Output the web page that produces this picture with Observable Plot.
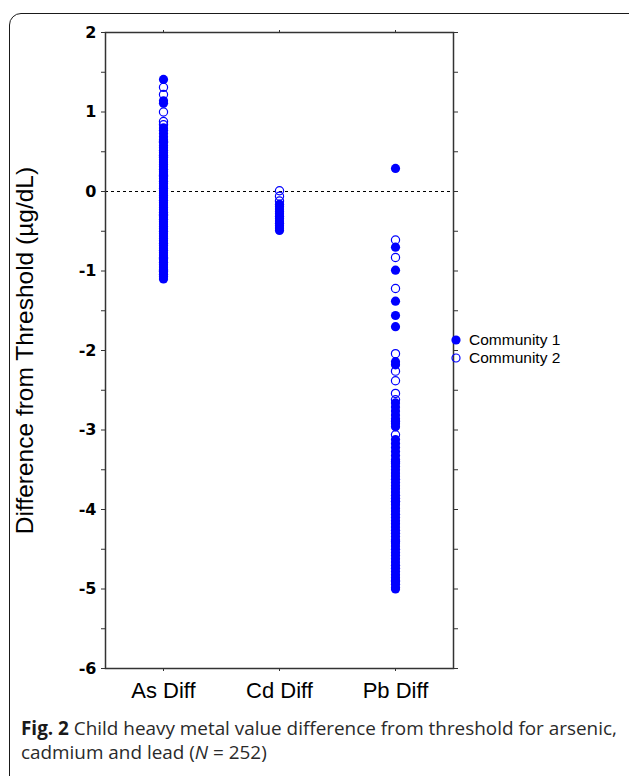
<!DOCTYPE html>
<html>
<head>
<meta charset="utf-8">
<script src="https://cdn.jsdelivr.net/npm/d3@7"></script>
<script src="https://cdn.jsdelivr.net/npm/@observablehq/plot@0.6"></script>
<style>
  html, body { margin: 0; padding: 0; background: #fff; }
  #wrap { position: relative; width: 629px; height: 776px; overflow: hidden; background: #fff; }
  #border { position: absolute; left: 9px; top: 13px; width: 650px; height: 800px;
            border: 1.5px solid #1a1a1a; border-radius: 12px; box-sizing: border-box; }
  #chart { position: absolute; left: 0; top: 0; }
  #chart g[aria-label="x-axis tick label"] text { font-family: "Liberation Sans", Arial, sans-serif; font-size: 22px; fill: #000; }
  #legend { position: absolute; left: 450px; top: 331px; font-family: "Liberation Sans", Arial, sans-serif;
            font-size: 15.5px; color: #000; line-height: 18px; }
  #legend div { display: flex; align-items: center; }
  #legend svg { margin-right: 7px; }
  #caption { position: absolute; left: 21px; top: 716px; width: 620px; font-family: "Open Sans", sans-serif;
             font-size: 18.9px; line-height: 24px; color: #2a2a2a; white-space: nowrap; }
  #caption b { color: #1a1a1a; }
</style>
</head>
<body>
<div id="wrap">
  <div id="border"></div>
  <div id="chart"></div>
  <div id="legend"></div>
  <div id="caption"><b>Fig. 2</b> Child heavy metal value difference from threshold for arsenic,<br>cadmium and lead (<i>N</i> = 252)</div>
</div>
<script>
const categories = ["As Diff", "Cd Diff", "Pb Diff"];
const seriesNames = ["Community 1", "Community 2"];
const yTicks = [-6, -5, -4, -3, -2, -1, 0, 1, 2];
const yMinorTicks = [-5.5, -4.5, -3.5, -2.5, -1.5, -0.5, 0.5, 1.5];
const yLabel = "Difference from Threshold (µg/dL)";
const threshold = 0;

// Community 1 (filled) values
const asC1 = [1.41, 1.14, 1.11, 0.80, 0.77, 0.73, 0.69, 0.65, 0.62, 0.58, 0.55, 0.52, 0.49, 0.46, 0.43, 0.40,
  0.37, 0.34, 0.31, 0.28, 0.25, 0.22, 0.19, 0.16, 0.13, 0.10, 0.07, 0.04, 0.01, -0.02, -0.05, -0.08, -0.11,
  -0.14, -0.17, -0.20, -0.23, -0.26, -0.29, -0.32, -0.35, -0.38, -0.41, -0.44, -0.47, -0.50, -0.53, -0.56,
  -0.59, -0.62, -0.65, -0.68, -0.71, -0.74, -0.77, -0.80, -0.83, -0.86, -0.89, -0.92, -0.95, -0.98, -1.01,
  -1.04, -1.07, -1.10];
const cdC1 = [-0.16, -0.19, -0.22, -0.25, -0.28, -0.31, -0.34, -0.37, -0.40, -0.43, -0.46, -0.49];
const pbC1 = [0.29, -0.70, -0.99, -1.38, -1.56, -1.70, -2.14, -2.18, -2.66, -2.71, -2.76, -2.81, -2.86, -2.92,
  -2.96, -3.12, -3.17, -3.22, -3.27, -3.32, -3.37, -3.42, -3.46, -3.50, -3.54, -3.58, -3.62, -3.66, -3.70,
  -3.74, -3.78, -3.82, -3.86, -3.90, -3.94, -3.98, -4.02, -4.06, -4.10, -4.14, -4.18, -4.22, -4.26, -4.30,
  -4.34, -4.38, -4.42, -4.46, -4.50, -4.54, -4.58, -4.62, -4.66, -4.70, -4.74, -4.78, -4.82, -4.86, -4.90,
  -4.94, -4.98, -5.00];

// Community 2 (open) values
const asC2 = [1.31, 1.22, 1.00, 0.88, 0.84, 0.63, 0.45, 0.20, -0.30, -0.84, -1.00];
const cdC2 = [0.01, -0.06, -0.12];
const pbC2 = [-0.61, -0.83, -1.22, -2.04, -2.26, -2.38, -2.54, -2.62, -2.89, -3.06, -3.40, -3.90, -4.40, -4.90];

const rows = [];
function add(cat, series, vals) { for (const v of vals) rows.push({cat, series, v}); }
add(categories[0], seriesNames[0], asC1);
add(categories[1], seriesNames[0], cdC1);
add(categories[2], seriesNames[0], pbC1);
add(categories[0], seriesNames[1], asC2);
add(categories[1], seriesNames[1], cdC2);
add(categories[2], seriesNames[1], pbC2);

const blue = "#0000ff";
const fmt = d => String(d);

const chart = Plot.plot({
  width: 629,
  height: 710,
  marginLeft: 105,
  marginRight: 176,
  marginTop: 32,
  marginBottom: 42,
  style: { background: "transparent", overflow: "visible" },
  x: { type: "point", domain: categories, padding: 0.5, axis: null },
  y: { domain: [-6, 2], axis: null },
  marks: [
    Plot.ruleY([threshold], { stroke: "#000", strokeDasharray: "3,3", strokeWidth: 1 }),
    Plot.dot(rows.filter(d => d.series === seriesNames[0]), { x: "cat", y: "v", r: 4.6, fill: blue, stroke: "none" }),
    Plot.dot(rows.filter(d => d.series === seriesNames[1]), { x: "cat", y: "v", r: 4.1, fill: "none", stroke: blue, strokeWidth: 1.2 }),
    Plot.axisY({ ticks: yTicks, tickFormat: fmt, tickSize: 4, tickPadding: 5, label: null, stroke: "#333", fill: "#000",
      fontFamily: "DejaVu Sans", fontWeight: 900, fontSize: 16 }),
    Plot.axisY({ ticks: yMinorTicks, tickFormat: () => "", tickSize: 4, label: null, stroke: "#333" }),
    Plot.axisY({ anchor: "right", ticks: yTicks.concat(yMinorTicks), tickFormat: () => "", tickSize: 4, label: null, stroke: "#333" }),
    Plot.axisX({ anchor: "top", tickFormat: () => "", tickSize: 3, label: null, stroke: "#333" }),
    Plot.axisX({ anchor: "bottom", tickSize: 3, tickPadding: 11, label: null, stroke: "#333", fill: "#000" }),
    Plot.frame({ stroke: "#333", strokeWidth: 1.5 }),
    Plot.text([yLabel], { frameAnchor: "left", rotate: -90, dx: -80, textAnchor: "middle",
      fontFamily: "Liberation Sans", fontSize: 24.5, fill: "#000" })
  ]
});
document.getElementById("chart").appendChild(chart);

// legend built from series names
const legend = document.getElementById("legend");
seriesNames.forEach((name, i) => {
  const row = document.createElement("div");
  const filled = i === 0;
  row.innerHTML = `<svg width="12" height="12"><circle cx="6" cy="6" r="${filled ? 4.6 : 4}" fill="${filled ? blue : "none"}" stroke="${filled ? "none" : blue}" stroke-width="1.2"/></svg><span>${name}</span>`;
  legend.appendChild(row);
});
</script>
</body>
</html>
